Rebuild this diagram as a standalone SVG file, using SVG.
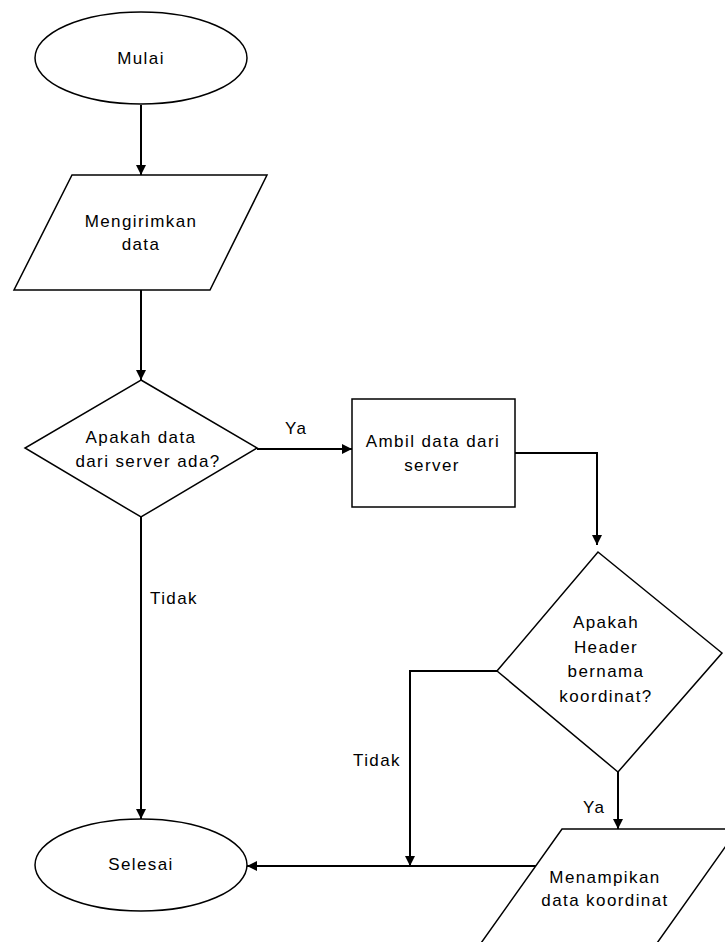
<svg xmlns="http://www.w3.org/2000/svg" width="725" height="942" viewBox="0 0 725 942">
<style>
.shape{fill:#fff;stroke:#000;stroke-width:1.5}
.conn{fill:none;stroke:#000;stroke-width:2}
text{font-family:"Liberation Sans",Arial,sans-serif;font-size:17px;letter-spacing:1.4px;fill:#000}
.c{text-anchor:middle}
</style>
<defs>
<marker id="arr" viewBox="0 0 10 10" refX="10" refY="5" markerWidth="10" markerHeight="10" markerUnits="userSpaceOnUse" orient="auto">
<path d="M0,0 L10,5 L0,10 Z" fill="#000"/>
</marker>
</defs>
<rect width="725" height="942" fill="#fff"/>
<g id="connectors">
<path class="conn" d="M141,105 L141,175" marker-end="url(#arr)"/>
<path class="conn" d="M141,290 L141,380" marker-end="url(#arr)"/>
<path class="conn" d="M257,449 L352,449" marker-end="url(#arr)"/>
<path class="conn" d="M515,453 L597,453 L597,545" marker-end="url(#arr)"/>
<path class="conn" d="M141,517 L141,819" marker-end="url(#arr)"/>
<path class="conn" d="M497,671 L410,671 L410,866" marker-end="url(#arr)"/>
<path class="conn" d="M618,772 L618,829" marker-end="url(#arr)"/>
<path class="conn" d="M537,866 L247,866" marker-end="url(#arr)"/>
<text x="285" y="434">Ya</text>
<text x="150" y="604">Tidak</text>
<text x="353" y="766">Tidak</text>
<text x="583" y="813">Ya</text>
</g>
<g id="mulai">
<ellipse class="shape" cx="141" cy="58" rx="106" ry="46"/>
<text class="c" x="141" y="64">Mulai</text>
</g>
<g id="mengirimkan">
<polygon class="shape" points="72,175 267,175 210,290 14,290"/>
<text class="c" x="141" y="227">Mengirimkan</text>
<text class="c" x="141" y="250">data</text>
</g>
<g id="cek-data">
<polygon class="shape" points="141,380 257,448 141,517 25,448"/>
<text class="c" x="141" y="443">Apakah data</text>
<text class="c" x="148" y="467">dari server ada?</text>
</g>
<g id="ambil-data">
<rect class="shape" x="352" y="399" width="163" height="108"/>
<text class="c" x="433" y="447">Ambil data dari</text>
<text class="c" x="432" y="471">server</text>
</g>
<g id="cek-header">
<polygon class="shape" points="598,552 722,653 618,772 497,671"/>
<text class="c" x="606" y="628">Apakah</text>
<text class="c" x="606" y="653">Header</text>
<text class="c" x="606" y="677">bernama</text>
<text class="c" x="606" y="702">koordinat?</text>
</g>
<g id="menampilkan">
<polygon class="shape" points="562,829 738,829 645,960 469,960"/>
<text class="c" x="605" y="883">Menampikan</text>
<text class="c" x="605" y="906">data koordinat</text>
</g>
<g id="selesai">
<ellipse class="shape" cx="141" cy="865" rx="106" ry="46"/>
<text class="c" x="141" y="870">Selesai</text>
</g>
</svg>
